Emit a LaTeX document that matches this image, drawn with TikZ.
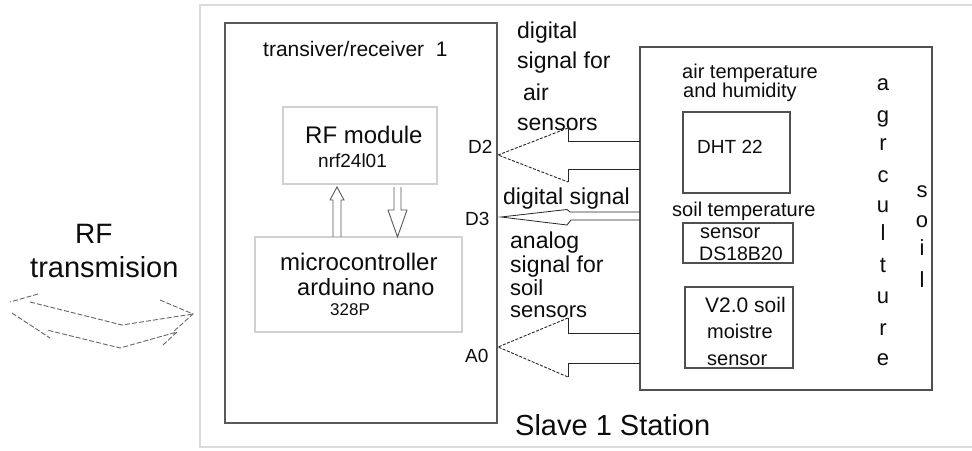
\documentclass[tikz,border=0pt]{standalone}
\usepackage{fontspec}
\setmainfont{Liberation Sans}
\definecolor{framec}{gray}{0.86}
\definecolor{boxc}{gray}{0.35}
\definecolor{lightc}{gray}{0.82}
\definecolor{txtc}{gray}{0.05}
\definecolor{rfc}{gray}{0.4}
\begin{document}
\begin{tikzpicture}[x=1pt,y=-1pt,
  t/.style={inner sep=0pt, anchor=base west, text=txtc},
  tc/.style={inner sep=0pt, anchor=base, text=txtc},
  fs/.style={font=\fontsize{#1}{#1}\selectfont},
  darkbox/.style={draw=boxc, line width=1.4pt, inner sep=0pt},
  lightbox/.style={draw=lightc, line width=1.2pt, inner sep=0pt},
  sensbox/.style={draw=boxc!90!black, line width=1.2pt, inner sep=0pt},
  blk/.style={draw=black!85, line width=0.9pt, line join=miter},
  blkdash/.style={draw=black!85, line width=0.9pt, dash pattern=on 3pt off 1.5pt},
  rfline/.style={draw=rfc, line width=0.9pt, dash pattern=on 5pt off 2pt}]
\useasboundingbox (0,0) rectangle (972,450);
\fill[white] (0,0) rectangle (972,450);
% outer frame
\draw[framec, line width=1.5pt] (972,5) -- (200,5) -- (200,447) -- (972,447);
% boxes
\node[darkbox, minimum width=272pt, minimum height=400pt] (trx) at (361,223) {};
\node[lightbox, minimum width=154pt, minimum height=77pt] (rf) at (360,145.5) {};
\node[lightbox, minimum width=207pt, minimum height=95pt] (mcu) at (358.5,284.5) {};
\node[sensbox, minimum width=292pt, minimum height=343pt] (sens) at (786,218.5) {};
\node[sensbox, minimum width=107pt, minimum height=81pt] (dht) at (736.5,152.5) {};
\node[sensbox, minimum width=110pt, minimum height=40pt] (ds) at (738,243) {};
\node[sensbox, minimum width=108pt, minimum height=81pt] (v2) at (739,327.5) {};
% texts in transceiver
\node[t, fs=21] (ttl) at (263,56) {transiver/receiver\ \ 1};
\node[t, fs=24] (rft) at (305,143) {RF module};
\node[t, fs=19] (nrf) at (318,167) {nrf24l01};
\node[t, fs=24] (mc1) at (280,270) {microcontroller};
\node[t, fs=23.5] (mc2) at (297,295) {arduino nano};
\node[t, fs=17] (mc3) at (330,315) {328P};
% hollow arrows between RF module and MCU
\draw[blk, draw=boxc] (333,237) -- (333,200) -- (330,200) -- (337,187) -- (344,200) -- (341,200) -- (341,237);
\draw[blk, draw=boxc] (394,187) -- (394,210) -- (388,210) -- (397.5,237) -- (407,210) -- (401,210) -- (401,187);
% pins
\node[t, fs=19] (d2) at (468,153) {D2};
\node[t, fs=19] (d3) at (465,225) {D3};
\node[t, fs=19] (a0) at (465,362) {A0};
% signal labels
\node[t, fs=23] (s1a) at (517,38) {digital};
\node[t, fs=23] (s1b) at (517,68) {signal for};
\node[t, fs=23] (s1c) at (523,100) {air};
\node[t, fs=23] (s1d) at (517,130) {sensors};
\node[t, fs=23] (s2) at (503,204) {digital signal};
\node[t, fs=23] (s3a) at (510,248) {analog};
\node[t, fs=23] (s3b) at (510,272) {signal for};
\node[t, fs=22, text depth=0pt] (s3c) at (510,295) {soil};
\node[t, fs=22, text height=12pt, text depth=0pt] (s3d) at (510,317) {sensors};
% block arrows
\coordinate (tipd2) at (498,155);
\coordinate (tipd3) at (501,217);
\coordinate (tipa0) at (498,347);
\draw[blk] (640,141) -- (568,141) -- (568,128);
\draw[blkdash] (568,128) -- (tipd2) -- (568,182);
\draw[blk] (568,182) -- (568,169) -- (640,169);
\draw[blk, line width=0.8pt] (640,212) -- (570,212) -- (567,209.5) -- (tipd3) -- (567,225) -- (571,220) -- (640,220);
\draw[blk] (640,333) -- (568,333) -- (568,318);
\draw[blkdash] (568,318) -- (tipa0) -- (568,377);
\draw[blk] (568,377) -- (568,363) -- (640,363);
% sensor box texts
\node[t, fs=20] (at1) at (682,78) {air temperature};
\node[t, fs=20] (at2) at (683,97) {and humidity};
\node[t, fs=19] (dhtt) at (697,153) {DHT 22};
\node[t, fs=20] (st) at (672,216) {soil temperature};
\node[t, fs=20] (dst1) at (700,238) {sensor};
\node[t, fs=19.5] (dst2) at (699,260) {DS18B20};
\node[t, fs=21] (v2a) at (705,312) {V2.0 soil};
\node[t, fs=20] (v2b) at (707,338) {moistre};
\node[t, fs=20] (v2c) at (707,365) {sensor};
\foreach \l/\yy [count=\i] in {a/90,g/122,r/150,c/182,u/212,l/240,t/272,u/303,r/335,e/365}
  \node[tc, fs=22] (ag\i) at (883,\yy) {\l};
\foreach \l/\yy [count=\i] in {s/197,o/227,i/255,l/287}
  \node[tc, fs=22] (so\i) at (922,\yy) {\l};
% RF transmission
\node[t, fs=28] (rf1) at (75,243) {RF};
\node[t, fs=29] (rf2) at (30,277) {transmision};
\coordinate (rtip) at (193,314);
\draw[rfline] (30,302) -- (122,325) -- (rtip);
\draw[rfline] (160,300) -- (rtip) -- (173,332);
\draw[rfline] (163,345) -- (177,332) -- (120,348) -- (47,330);
\draw[rfline] (38,294) -- (10,302);
\draw[rfline] (12,313) -- (50,338);
% station label
\node[t, fs=29] (slave) at (515,435) {Slave 1 Station};
\end{tikzpicture}
\end{document}
